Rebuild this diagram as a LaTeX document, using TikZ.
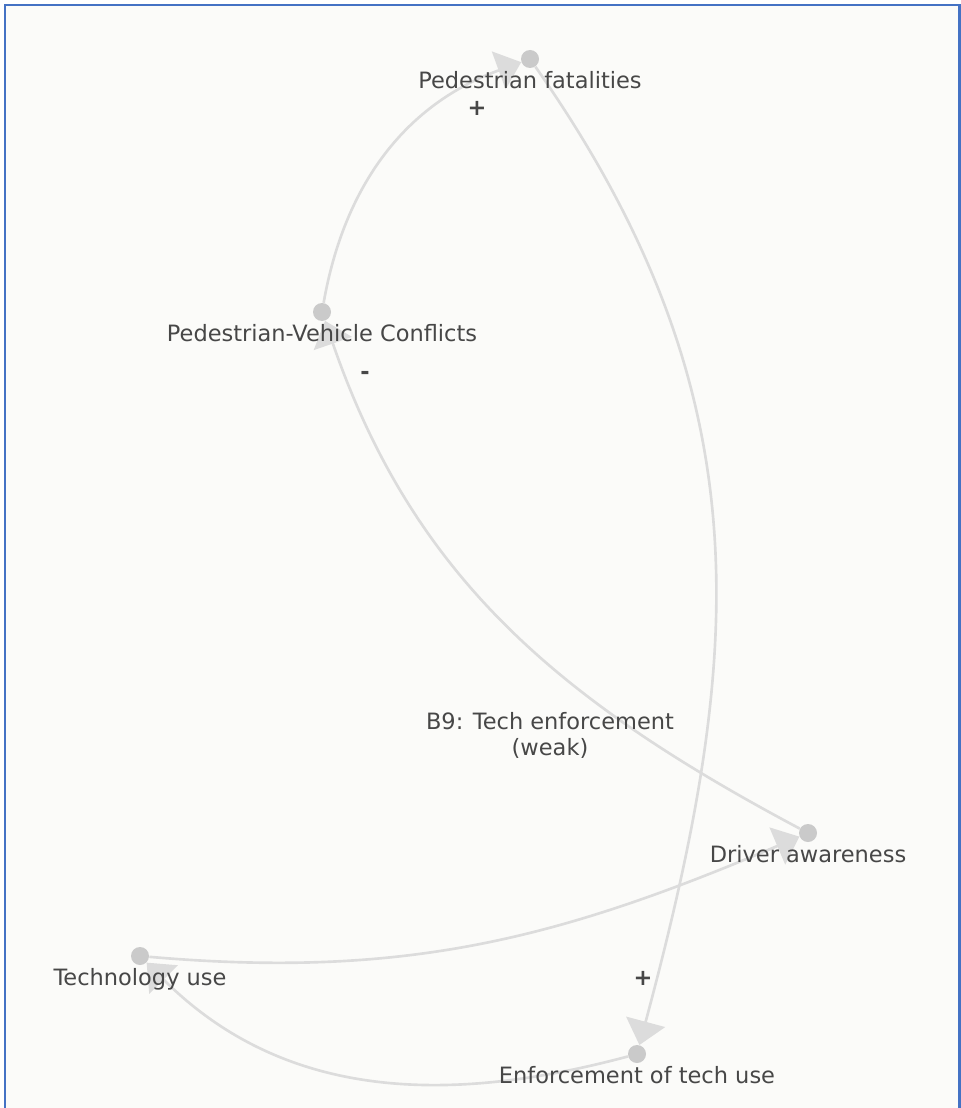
\documentclass[tikz,border=0pt]{standalone}
\usepackage{fontspec}
\setmainfont{DejaVu Sans}
\usetikzlibrary{arrows.meta, positioning}
\definecolor{inkgray}{HTML}{474747}
\definecolor{linkgray}{HTML}{DCDCDC}
\definecolor{dotgray}{HTML}{CACACA}
\definecolor{paper}{HTML}{FBFBF9}
\definecolor{frameblue}{HTML}{4472C4}

\begin{document}
\begin{tikzpicture}[x=0.02cm, y=0.02cm,
  dot/.style={circle, fill=dotgray, inner sep=0pt, minimum size=0.36cm},
  lbl/.style={text=inkgray, font=\fontsize{12.8}{15}\selectfont, inner sep=0pt,
    text height=9.4pt, text depth=2.6pt},
  loopname/.style={text=inkgray, font=\fontsize{12.8}{14.8}\selectfont, inner sep=0pt, align=center},
  sign/.style={text=inkgray, font=\fontsize{12.8}{14}\selectfont\bfseries, inner sep=0pt},
  link/.style={draw=linkgray, line width=1.5pt,
    -{Triangle[length=0.48cm, width=0.8cm, fill=linkgray]}}]
  % frame
  \useasboundingbox (0,0) rectangle (960,-1108);
  \fill[white] (0,0) rectangle (960,-1108);
  \fill[paper] (5,-5) rectangle (960,-1108);
  \draw[frameblue, line width=1.7pt] (5,-1112) -- (5,-5) -- (959,-5) -- (959,-1112);

  % variables
  \node[dot] (fat)  at (530,-59) {};
  \node[dot] (pvc)  at (322,-312) {};
  \node[dot] (drv)  at (808,-833) {};
  \node[dot] (tech) at (140,-956) {};
  \node[dot] (enf)  at (637,-1054) {};

  % links
  \draw[link] (pvc)  to[out=80, in=200] (fat);
  \draw[link] (fat)  to[out=-55, in=75, looseness=1.05] (enf);
  \draw[link] (enf)  to[out=195, in=-45] (tech);
  \draw[link] (tech) to[out=-5, in=203] (drv);
  \draw[link] (drv)  to[out=152, in=-71] (pvc);

  % names
  \node[lbl, below=1.8pt of fat]  (fatlbl)  {Pedestrian fatalities};
  \node[lbl, below=1.8pt of pvc]  (pvclbl)  {Pedestrian-Vehicle Conflicts};
  \node[lbl, below=1.8pt of drv]  (drvlbl)  {Driver awareness};
  \node[lbl, below=1.8pt of tech] (techlbl) {Technology use};
  \node[lbl, below=1.8pt of enf]  (enflbl)  {Enforcement of tech use};

  % polarities and loop
  \node[sign] (s1) at (477,-108) {+};
  \node[sign] (s2) at (643,-978) {+};
  \node[sign] (s3) at (365,-375) {-};
  \node[loopname] (b9) at (550,-735) {B9: Tech enforcement\\(weak)};
\end{tikzpicture}
\end{document}
